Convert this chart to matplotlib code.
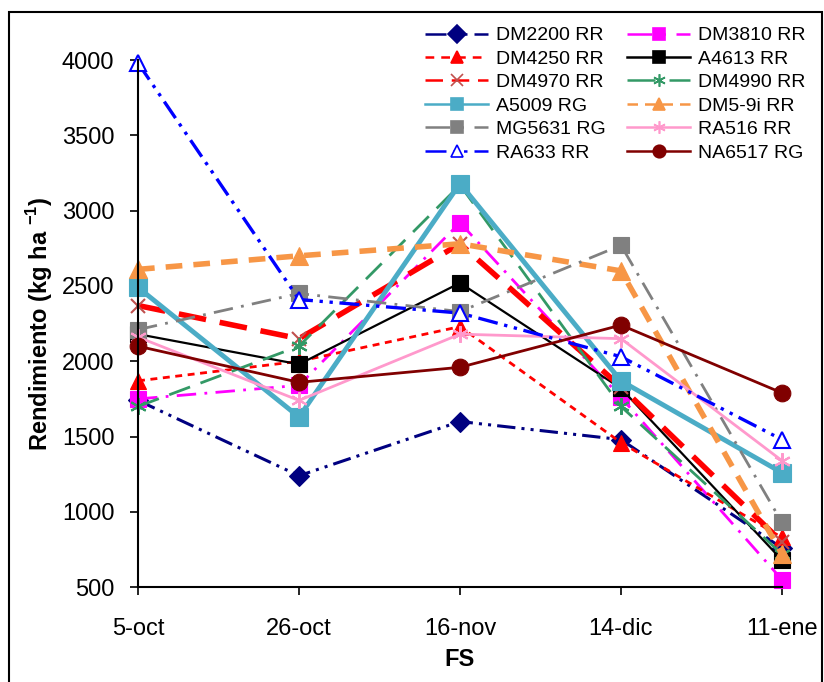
import numpy as np
import matplotlib
matplotlib.use("Agg")
import matplotlib.pyplot as plt
from matplotlib.lines import Line2D
from matplotlib.patches import Rectangle

plt.rcParams['font.family'] = ['Liberation Sans', 'DejaVu Sans']
plt.rcParams['mathtext.fontset'] = 'custom'
plt.rcParams['mathtext.rm'] = 'Liberation Sans'
plt.rcParams['mathtext.bf'] = 'Liberation Sans:bold'

# fechas de siembra (FS)
fechas = ['5-oct', '26-oct', '16-nov', '14-dic', '11-ene']

# rendimiento (kg/ha) por cultivar
dm2200 = [1740, 1240, 1600, 1480, 760]
dm3810 = [1750, 1840, 2920, 1760, 550]
dm4250 = [1870, 2000, 2230, 1460, 830]
a4613 = [2180, 1980, 2520, 1820, 680]
dm4970 = [2370, 2150, 2780, 1830, 800]
dm4990 = [1700, 2100, 3170, 1700, 720]
a5009 = [2490, 1630, 3180, 1870, 1260]
dm59i = [2610, 2700, 2780, 2600, 720]
mg5631 = [2210, 2450, 2330, 2770, 930]
ra516 = [2160, 1740, 2180, 2150, 1340]
ra633 = [3980, 2410, 2320, 2030, 1480]
na6517 = [2100, 1860, 1960, 2240, 1790]

asterisco = (6, 2, 0)

# nombre, datos, color, dashes (None = continua), lw, marcador, color marcador, tamano, relleno
series = [
    ('DM2200 RR', dm2200, '#000080', [6, 2, 1, 2, 1, 2], 2.2, 'D', '#000080', 10, True),
    ('DM3810 RR', dm3810, '#FF00FF', [7, 3, 1, 3], 2.0, 's', '#FF00FF', 12, True),
    ('DM4250 RR', dm4250, '#FF0000', [2.5, 2], 2.0, '^', '#FF0000', 12, True),
    ('A4613 RR', a4613, '#000000', None, 1.6, 's', '#000000', 12, True),
    ('DM4970 RR', dm4970, '#FF0000', [5, 2.5], 4.0, 'x', '#C0504D', 10, True),
    ('DM4990 RR', dm4990, '#339966', [8, 4], 2.0, asterisco, '#339966', 12, True),
    ('A5009 RG', a5009, '#4BACC6', None, 3.5, 's', '#4BACC6', 13, True),
    ('DM5-9i RR', dm59i, '#F79646', [3, 2], 4.0, '^', '#F79646', 13, True),
    ('MG5631 RG', mg5631, '#808080', [7, 3, 1, 3], 2.0, 's', '#808080', 12, True),
    ('RA516 RR', ra516, '#FF99CC', None, 2.0, asterisco, '#FF99CC', 12, True),
    ('RA633 RR', ra633, '#0000FF', [6, 2, 1, 2, 1, 2], 2.4, '^', '#0000FF', 12, False),
    ('NA6517 RG', na6517, '#800000', None, 2.0, 'o', '#800000', 12, True),
]

fig = plt.figure(figsize=(8.24, 6.82), dpi=100)
ax = fig.add_axes([0.1675, 0.139, 0.7815, 0.773])
x = np.arange(len(fechas))

handles = []
for nombre, datos, col, dsh, lw, mk, mcol, ms, relleno in series:
    fc = mcol if relleno else 'white'
    ln, = ax.plot(x, datos, color=col, lw=lw, marker=mk, markersize=ms,
                  markerfacecolor=fc, markeredgecolor=mcol,
                  markeredgewidth=1.5 if mk in ('x', asterisco) or not relleno else 0.8,
                  clip_on=False)
    if dsh is not None:
        ln.set_dashes(dsh)
    h = Line2D([], [], color=col, lw=1.8, marker=mk, markersize=9,
               markerfacecolor=fc, markeredgecolor=mcol, markeredgewidth=1.2)
    if dsh is not None:
        h.set_dashes([d * 1.4 for d in dsh])
    handles.append(h)

ax.set_xlim(0, 4)
ax.set_ylim(500, 4000)
ax.set_yticks(np.arange(500, 4001, 500))
ax.set_xticks(x)
ax.set_xticklabels(fechas)
ax.tick_params(direction='out', length=6, width=1.2, labelsize=17)
ax.tick_params(axis='y', pad=11)
ax.tick_params(axis='x', pad=16)
for s in ['top', 'right']:
    ax.spines[s].set_visible(False)
for s in ['left', 'bottom']:
    ax.spines[s].set_linewidth(1.5)

ax.set_xlabel('FS', fontsize=17, fontweight='bold', labelpad=6)
ax.set_ylabel(r'Rendimiento (kg ha $^{\mathbf{-1}}$)', fontsize=17,
              fontweight='bold', labelpad=5)

orden = [0, 2, 4, 6, 8, 10, 1, 3, 5, 7, 9, 11]
fig.legend([handles[i] for i in orden], [series[i][0] for i in orden],
           loc='upper left', bbox_to_anchor=(0.504, 0.975), ncol=2,
           frameon=False, fontsize=14, handlelength=3.25, handletextpad=0.4,
           columnspacing=1.1, labelspacing=0.3, borderpad=0)

fig.patches.append(Rectangle((9 / 824, -0.01), 813 / 824, 1 - 12 / 682 + 0.01,
                             transform=fig.transFigure, fill=False,
                             edgecolor='black', lw=1.5))

fig.savefig('out.png', dpi=100)
